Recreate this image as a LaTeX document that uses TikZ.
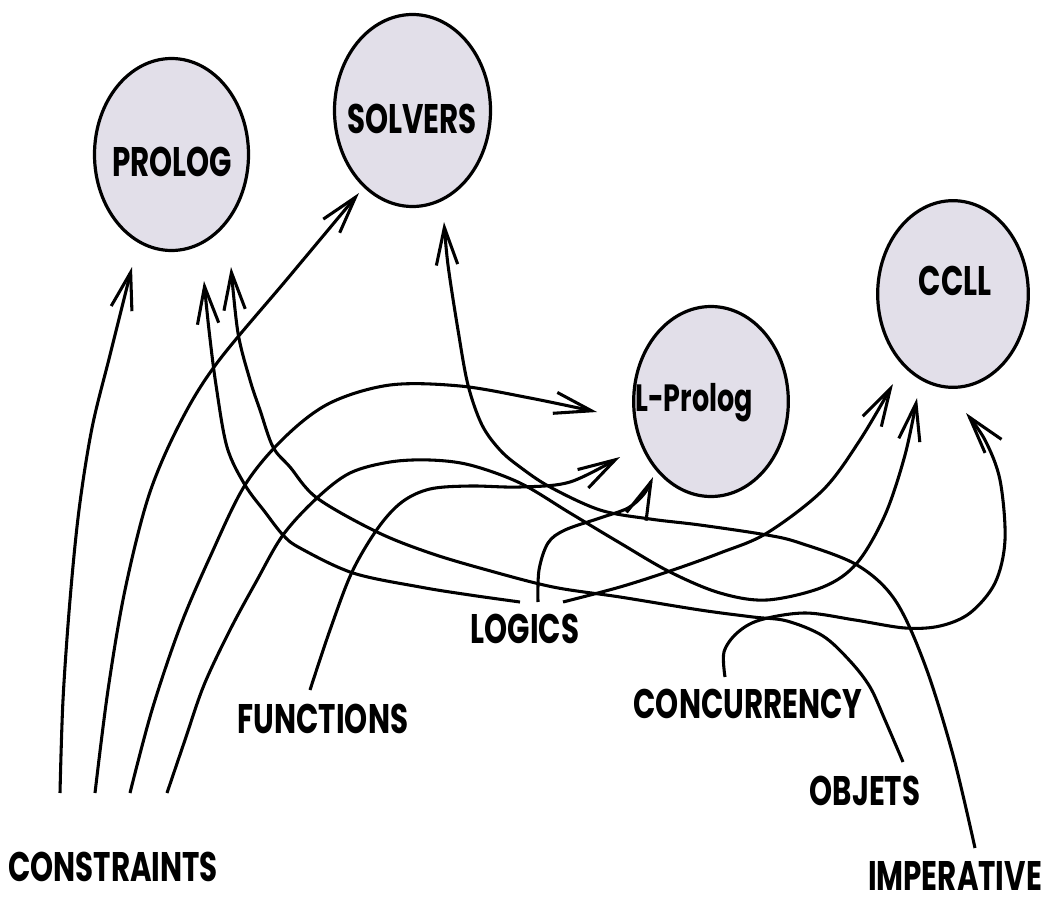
\documentclass[tikz,border=0pt]{standalone}
\usepackage{fontspec}
\usetikzlibrary{arrows.meta,shapes.geometric}
\newfontfamily\labfont{Poppins}[FakeStretch=0.71]
\definecolor{ellfill}{RGB}{226,223,233}
\begin{document}
\begin{tikzpicture}[x=0.75pt,y=-0.75pt,
  lang/.style={ellipse, draw, line width=2.4pt, fill=ellfill, inner sep=0pt},
  lab/.style={font={\labfont\bfseries\fontsize{31pt}{33pt}\selectfont}, anchor=base, inner sep=0pt},
  smalllab/.style={font={\labfont\bfseries\fontsize{28.5pt}{30pt}\selectfont}, anchor=base, inner sep=0pt},
  conn/.style={line width=2.3pt, line join=round, -{Straight Barb[length=28pt,width=16pt]}},
  smoothcurve/.style={smooth, tension=0.55}]
\useasboundingbox (0,0) rectangle (1047,899);

% language ellipses
\node[lang, minimum width=115.5pt, minimum height=144pt] (prolog) at (171.5,154.5) {};
\node[lang, minimum width=117pt, minimum height=144pt] (solvers) at (412.5,110.5) {};
\node[lang, minimum width=116pt, minimum height=142.5pt] (lprolog) at (711,401.5) {};
\node[lang, minimum width=113pt, minimum height=140pt] (ccll) at (953,294) {};

\node[lab] (prologt) at (172,176) {PROLOG};
\node[lab] (solverst) at (412,133) {SOLVERS};
\node[smalllab] (lprologt) at (694,411) {L-Prolog};
\node[lab] (ccllt) at (955,295) {CCLL};

% paradigm labels
\node[lab] (constraints) at (113,881) {CONSTRAINTS};
\node[lab] (functions) at (323,733) {FUNCTIONS};
\node[lab] (logics) at (525,643) {LOGICS};
\node[lab] (concurrency) at (748,718) {CONCURRENCY};
\node[lab] (objets) at (865,805) {OBJETS};
\node[lab] (imperative) at (955,890) {IMPERATIVE};

% connector ends
\coordinate (c1) at (60,793);   \coordinate (t1) at (132,267);
\coordinate (c2) at (95,793);   \coordinate (t2) at (359,193);
\coordinate (c3) at (130,793);  \coordinate (t3) at (597,412);
\coordinate (c4) at (167,793);  \coordinate (t4) at (917,398);
\coordinate (f1) at (310,690);  \coordinate (t5) at (620,457);
\coordinate (l1) at (520,602);  \coordinate (t6) at (204,281);
\coordinate (l2) at (538,602);  \coordinate (t7) at (653,477);
\coordinate (l3) at (563,602);  \coordinate (t8) at (893,384);
\coordinate (k1) at (725,677);  \coordinate (t9) at (966,413);
\coordinate (o1) at (903,762);  \coordinate (t10) at (231,267);
\coordinate (i1) at (975,848);  \coordinate (t11) at (444,222);

% CONSTRAINTS
\draw[conn] plot[smoothcurve] coordinates {(c1) (63,700) (70,600) (79,510) (92,428) (110,355) (t1)};
\draw[conn] plot[smoothcurve] coordinates {(c2) (108,690) (125,590) (149,495) (180,423) (217,363) (288,278) (t2)};
\draw[conn] plot[smoothcurve] coordinates {(c3) (152,710) (180,627) (210,557) (245,485) (285,437) (330,403) (390,385) (460,386) (530,398) (t3)};
\draw[conn] plot[smoothcurve] coordinates {(c4) (185,740) (204,685) (230,630) (256,582) (283,535) (317,498) (350,473) (390,462) (430,460) (470,465) (520,483) (570,513) (620,543) (670,572) (720,593) (767,600) (823,587) (857,563) (885,515) (905,455) (t4)};
% FUNCTIONS
\draw[conn] plot[smoothcurve] coordinates {(f1) (330,630) (352,572) (378,528) (402,502) (430,489) (470,486) (520,487) (570,482) (t5)};
% LOGICS
\draw[conn] plot[smoothcurve] coordinates {(l1) (470,595) (420,587) (353,573) (300,548) (283,535) (265,512) (245,485) (227,447) (216,385) (209,330) (t6)};
\draw[conn] plot[smoothcurve] coordinates {(l2) (539,570) (548,543) (565,530) (600,518) (628,508) (644,494) (t7)};
\draw[conn] plot[smoothcurve] coordinates {(l3) (620,587) (670,571) (720,553) (767,533) (823,490) (860,440) (t8)};
% CONCURRENCY
\draw[conn] plot[smoothcurve] coordinates {(k1) (724,652) (737,633) (760,620) (805,613) (855,620) (905,628) (940,626) (970,613) (995,583) (1005,540) (1000,480) (985,440) (t9)};
% OBJETS
\draw[conn] plot[smoothcurve] coordinates {(o1) (885,720) (870,687) (850,661) (823,636) (787,621) (753,617) (700,610) (620,597) (553,587) (487,570) (430,553) (377,532) (317,498) (290,467) (273,447) (260,410) (250,380) (238,333) (t10)};
% IMPERATIVE
\draw[conn] plot[smoothcurve] coordinates {(i1) (953,755) (925,665) (895,600) (857,565) (800,543) (767,535) (700,525) (650,519) (600,510) (550,487) (520,467) (500,450) (482,425) (468,385) (458,330) (448,265) (t11)};
\end{tikzpicture}
\end{document}
